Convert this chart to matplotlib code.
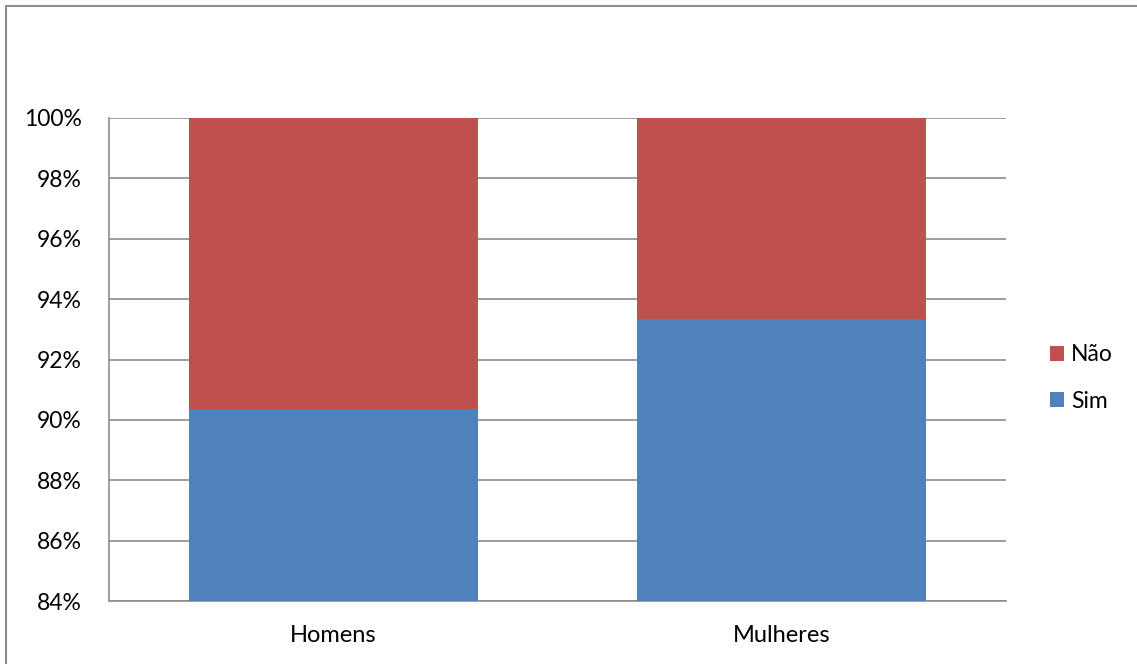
import matplotlib.pyplot as plt
from matplotlib.patches import Rectangle
from matplotlib.ticker import FuncFormatter

categories = ["Homens", "Mulheres"]
sim = [90.36, 93.34]
nao = [100 - v for v in sim]

plt.rcParams['font.family'] = ['Lato', 'DejaVu Sans']

fig = plt.figure(figsize=(11.37, 6.64), dpi=100)
ax = fig.add_axes([109 / 1137, 1 - 601 / 664, (1006 - 109) / 1137, (601 - 118) / 664])

x = range(len(categories))
ax.bar(x, sim, width=0.645, color="#4F81BD", label="Sim", zorder=3)
ax.bar(x, nao, width=0.645, bottom=sim, color="#C0504D", label="Não", zorder=3)

ax.set_ylim(84, 100)
ax.set_xlim(-0.5, 1.5)
ax.set_yticks(range(84, 101, 2))
ax.yaxis.set_major_formatter(FuncFormatter(lambda v, p: f"{v:.0f}%"))
ax.set_xticks(list(x))
ax.set_xticklabels(categories)
ax.tick_params(axis="both", length=0, labelsize=16.5, colors="black")
ax.tick_params(axis="x", labelsize=17)
ax.tick_params(axis="y", pad=19.5)
ax.tick_params(axis="x", pad=17)
ax.grid(axis="y", color="#8c8c8c", linewidth=1.2, zorder=0)
for s in ["top", "right"]:
    ax.spines[s].set_visible(False)
for s in ["left", "bottom"]:
    ax.spines[s].set_color("#8c8c8c")
    ax.spines[s].set_linewidth(1.2)

handles, labels = ax.get_legend_handles_labels()
fig.legend(handles[::-1], labels[::-1], loc="center left", bbox_to_anchor=(1029 / 1137, 1 - 378 / 664),
           frameon=False, fontsize=16.5, handlelength=0.62, handleheight=0.62, handletextpad=0.3,
           labelspacing=1.1)

fig.patches.append(Rectangle((6 / 1137, -0.1), 1.2, 1.1 - 6 / 664, transform=fig.transFigure,
                             fill=False, edgecolor="#8c8c8c", linewidth=1.5))

fig.savefig("out.png", dpi=100)
